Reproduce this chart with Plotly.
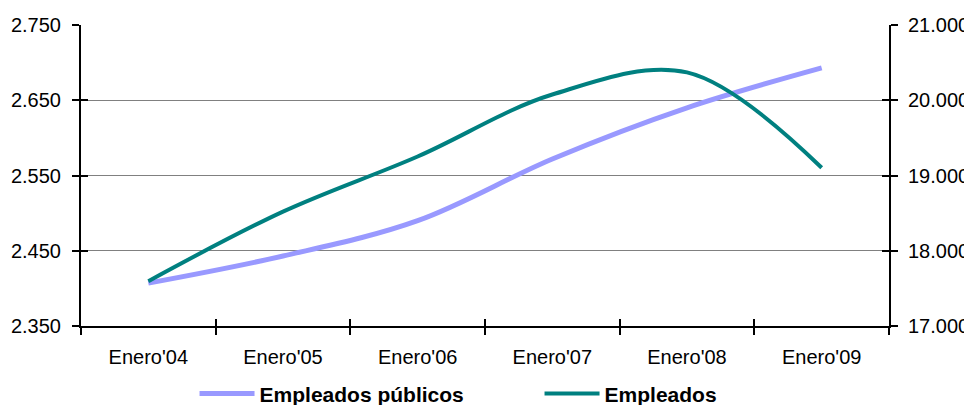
import plotly.graph_objects as go

categories = ["Enero'04", "Enero'05", "Enero'06", "Enero'07", "Enero'08", "Enero'09"]
empleados_publicos = [2407, 2443, 2490, 2572, 2640, 2693]
empleados = [17596, 18520, 19253, 20076, 20370, 19103]
left_ticks = [2350, 2450, 2550, 2650, 2750]
right_ticks = [17000, 18000, 19000, 20000, 21000]

PURPLE = "#9999FF"
TEAL = "#008080"
FONT = "Liberation Sans, Arial, sans-serif"

fig = go.Figure()
fig.add_trace(go.Scatter(x=categories, y=empleados_publicos, name="Empleados públicos",
                         mode="lines", line=dict(color=PURPLE, width=5, shape="spline", smoothing=1),
                         xaxis="x", yaxis="y"))
fig.add_trace(go.Scatter(x=categories, y=empleados, name="Empleados",
                         mode="lines", line=dict(color=TEAL, width=4, shape="spline", smoothing=1),
                         xaxis="x", yaxis="y2"))
# invisible helper traces for inward tick marks (crossing ticks)
fig.add_trace(go.Scatter(x=categories, y=empleados_publicos, mode="lines", opacity=0,
                         showlegend=False, hoverinfo="skip", xaxis="x2", yaxis="y3"))
fig.add_trace(go.Scatter(x=categories, y=empleados, mode="lines", opacity=0,
                         showlegend=False, hoverinfo="skip", xaxis="x2", yaxis="y4"))

tickfont = dict(family=FONT, size=20, color="black")

# the page body adds an 8px margin; figure is sized so the page fits the window
fig.update_layout(
    width=964, height=397,
    margin=dict(l=73, r=83, t=17, b=79, autoexpand=False),
    paper_bgcolor="white", plot_bgcolor="white",
    separators=",.",
    showlegend=True,
    legend=dict(orientation="h", xref="container", yref="container",
                x=0.1935, y=0.028, xanchor="left", yanchor="middle",
                font=dict(family=FONT, size=21, color="black", weight="bold"),
                entrywidth=275, entrywidthmode="pixels", itemwidth=55,
                bgcolor="rgba(0,0,0,0)"),
    xaxis=dict(type="category", range=[-0.5, 5.5], tickson="boundaries",
               showline=True, linecolor="black", linewidth=2,
               ticks="outside", ticklen=7, tickwidth=2, tickcolor="black",
               showgrid=False, tickfont=tickfont, ticklabelstandoff=12, zeroline=False,
               automargin=False),
    xaxis2=dict(type="category", range=[-0.5, 5.5], tickson="boundaries", overlaying="x",
                side="bottom", anchor="y", showline=False, ticks="inside", ticklen=7,
                tickwidth=2, tickcolor="black", showticklabels=False, showgrid=False,
                zeroline=False, automargin=False),
    yaxis=dict(range=[2350, 2750], tickvals=left_ticks, tickformat=",d",
               showline=True, linecolor="black", linewidth=2,
               ticks="outside", ticklen=7, tickwidth=2, tickcolor="black",
               showgrid=True, gridcolor="#808080", gridwidth=1,
               tickfont=tickfont, ticklabelstandoff=7, zeroline=False, automargin=False),
    yaxis2=dict(range=[17000, 21000], tickvals=right_ticks, tickformat=",d",
                overlaying="y", side="right", anchor="x",
                showline=True, linecolor="black", linewidth=2,
                ticks="outside", ticklen=7, tickwidth=2, tickcolor="black",
                showgrid=False, tickfont=tickfont, ticklabelstandoff=6, zeroline=False,
                automargin=False),
    yaxis3=dict(range=[2350, 2750], tickvals=left_ticks, overlaying="y", side="left",
                anchor="x2", showline=False, ticks="inside", ticklen=7, tickwidth=2,
                tickcolor="black", showticklabels=False, showgrid=False, zeroline=False,
                automargin=False),
    yaxis4=dict(range=[17000, 21000], tickvals=right_ticks, overlaying="y", side="right",
                anchor="x2", showline=False, ticks="inside", ticklen=7, tickwidth=2,
                tickcolor="black", showticklabels=False, showgrid=False, zeroline=False,
                automargin=False),
)

fig.write_html("out.html")
